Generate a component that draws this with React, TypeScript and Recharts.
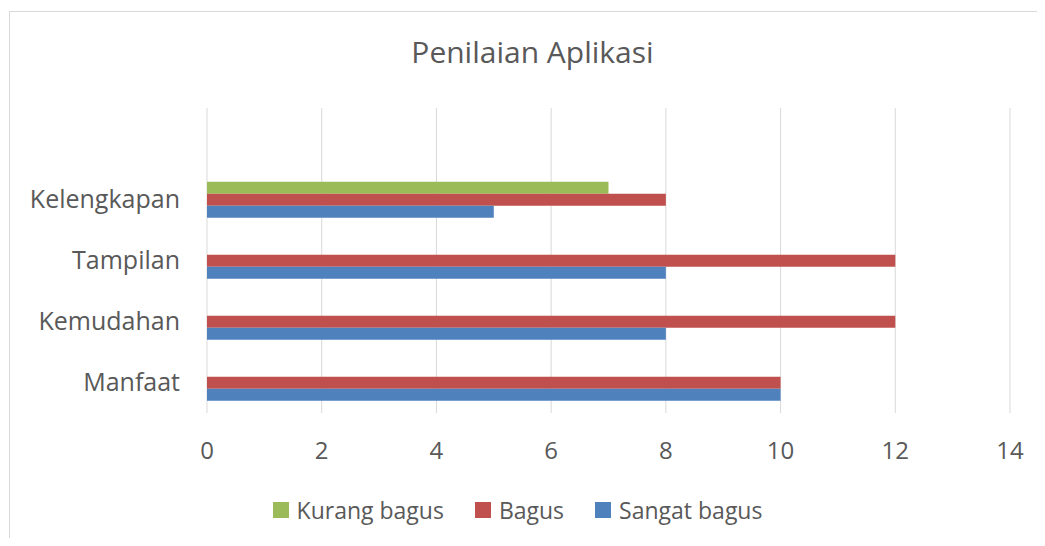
import { Bar, BarChart, CartesianGrid, Legend, XAxis, YAxis } from "recharts"

const CATEGORIES = ["", "Kelengkapan", "Tampilan", "Kemudahan", "Manfaat"]
const KURANG_BAGUS = [null, 7, 0, 0, 0]
const BAGUS = [null, 8, 12, 12, 10]
const SANGAT_BAGUS = [null, 5, 8, 8, 10]
const SERIES = ["Kurang bagus", "Bagus", "Sangat bagus"]
const X_TICKS = [0, 2, 4, 6, 8, 10, 12, 14]

const DATA = CATEGORIES.map((name, i) => ({
    name,
    kurang: KURANG_BAGUS[i],
    bagus: BAGUS[i],
    sangat: SANGAT_BAGUS[i],
}))

const FONT = "'Open Sans', 'Noto Sans', sans-serif"
const TEXT = "#595959"

const LegendBox = ({ payload }: any) => {
    const items = [...(payload || [])].sort((a: any, b: any) => SERIES.indexOf(a.value) - SERIES.indexOf(b.value))
    return (
        <div style={{ display: "flex", justifyContent: "center", gap: 31, fontFamily: FONT, fontSize: 23, lineHeight: "32px", color: TEXT }}>
            {items.map((p: any) => (
                <div key={p.value} style={{ display: "flex", alignItems: "center", gap: 8 }}>
                    <span style={{ width: 16, height: 16, background: p.color, display: "inline-block" }} />
                    <span>{p.value}</span>
                </div>
            ))}
        </div>
    )
}

export default function App() {
    return (
        <div style={{ position: "relative", width: 1045, height: 546, margin: -8, overflow: "hidden", background: "#fff" }}>
            <div style={{ position: "absolute", left: 9, top: 11, width: 1100, height: 600, border: "1px solid #d9d9d9" }} />
            <div style={{ position: "absolute", left: 10, top: 31, width: 1045, textAlign: "center", fontFamily: FONT, fontSize: 30, color: TEXT }}>
                Penilaian Aplikasi
            </div>
            <BarChart
                width={1045}
                height={546}
                data={DATA}
                layout="vertical"
                margin={{ top: 108, right: 35, bottom: 61, left: 0 }}
                barCategoryGap="21%"
                barGap={0}
                style={{ position: "absolute", left: 0, top: 0 }}
            >
                <CartesianGrid horizontal={false} stroke="#d9d9d9" />
                <XAxis
                    type="number"
                    domain={[0, 14]}
                    ticks={X_TICKS}
                    axisLine={false}
                    tickLine={false}
                    tickMargin={23}
                    tick={{ fill: TEXT, fontSize: 24, fontFamily: FONT }}
                    height={40}
                />
                <YAxis
                    type="category"
                    dataKey="name"
                    width={207}
                    axisLine={false}
                    tickLine={false}
                    tickMargin={21}
                    tick={{ fill: TEXT, fontSize: 25, fontFamily: FONT }}
                />
                <Legend
                    verticalAlign="bottom"
                    content={<LegendBox />}
                    wrapperStyle={{ position: "absolute", top: 494, left: -5, width: 1045, bottom: "auto" }}
                />
                <Bar dataKey="kurang" name="Kurang bagus" fill="#9bbb59" isAnimationActive={false} />
                <Bar dataKey="bagus" name="Bagus" fill="#c0504d" isAnimationActive={false} />
                <Bar dataKey="sangat" name="Sangat bagus" fill="#4f81bd" isAnimationActive={false} />
            </BarChart>
        </div>
    )
}
